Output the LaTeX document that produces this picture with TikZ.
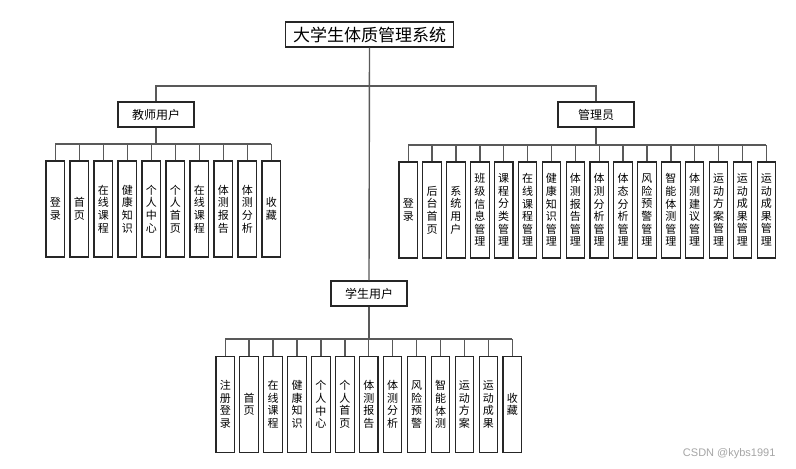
\documentclass[tikz,border=0pt]{standalone}
\usepackage{fontspec}
\newfontfamily\cjk{Noto Sans CJK SC}
\newfontfamily\wmfont{Liberation Sans}
\begin{document}
\begin{tikzpicture}[x=1pt,y=-1pt,
  conn/.style={draw=black!65,line width=1.4pt},
  headbox/.style={draw=black!85,line width=1.1pt,fill=white,inner sep=0,
    minimum width=76,minimum height=25,font=\cjk\fontsize{12}{14}\selectfont},
  rootbox/.style={draw=black!85,line width=1.1pt,fill=white,inner sep=0,
    minimum width=168,minimum height=25,font=\cjk\fontsize{17}{19}\selectfont},
  leaf/.style={draw=black!85,line width=1.1pt,fill=white,inner sep=0,
    minimum width=18.5,minimum height=96,align=center,
    font=\cjk\fontsize{11}{12.6}\selectfont},
  wm/.style={font=\wmfont\fontsize{11}{13}\selectfont,text=black!35}]
\useasboundingbox (0,0) rectangle (796,469);
\fill[white] (0,0) rectangle (796,469);

% top level
\node[rootbox] (root) at (369.5,34.5) {大学生体质管理系统};
\node[headbox] (tea) at (156,114.5) {教师用户};
\node[headbox] (adm) at (596,114.5) {管理员};
\node[headbox] (stu) at (369,293.5) {学生用户};

\coordinate (mbus) at (0,86);
\draw[conn] (root.south) -- (stu.north);
\draw[conn] (tea.north) -- (tea.north |- mbus) -- (adm.north |- mbus) -- (adm.north);

% teacher functions
\foreach \t [count=\i] in {登\\录,首\\页,在\\线\\课\\程,健\\康\\知\\识,个\\人\\中\\心,
    个\\人\\首\\页,在\\线\\课\\程,体\\测\\报\\告,体\\测\\分\\析,收\\藏}
  \node[leaf] (t\i) at ({55.25+24*(\i-1)},209) {\t};
\coordinate (tbus) at (0,144);
\draw[conn] (tea.south) -- (tea.south |- tbus);
\draw[conn] (t1.north |- tbus) -- (t10.north |- tbus);
\foreach \i in {1,...,10}
  \draw[conn] (t\i.north) -- (t\i.north |- tbus);

% administrator functions
\foreach \t [count=\i] in {登\\录,后\\台\\首\\页,系\\统\\用\\户,班\\级\\信\\息\\管\\理,
    课\\程\\分\\类\\管\\理,在\\线\\课\\程\\管\\理,健\\康\\知\\识\\管\\理,
    体\\测\\报\\告\\管\\理,体\\测\\分\\析\\管\\理,体\\态\\分\\析\\管\\理,
    风\\险\\预\\警\\管\\理,智\\能\\体\\测\\管\\理,体\\测\\建\\议\\管\\理,
    运\\动\\方\\案\\管\\理,运\\动\\成\\果\\管\\理,运\\动\\成\\果\\管\\理}
  \node[leaf] (a\i) at ({408.25+23.87*(\i-1)},210) {\t};
\coordinate (abus) at (0,145);
\draw[conn] (adm.south) -- (adm.south |- abus);
\draw[conn] (a1.north |- abus) -- (a16.north |- abus);
\foreach \i in {1,...,16}
  \draw[conn] (a\i.north) -- (a\i.north |- abus);

% student functions
\foreach \t [count=\i] in {注\\册\\登\\录,首\\页,在\\线\\课\\程,健\\康\\知\\识,
    个\\人\\中\\心,个\\人\\首\\页,体\\测\\报\\告,体\\测\\分\\析,风\\险\\预\\警,
    智\\能\\体\\测,运\\动\\方\\案,运\\动\\成\\果,收\\藏}
  \node[leaf] (s\i) at ({225.25+23.92*(\i-1)},404.5) {\t};
\coordinate (sbus) at (0,339);
\draw[conn] (stu.south) -- (stu.south |- sbus);
\draw[conn] (s1.north |- sbus) -- (s13.north |- sbus);
\foreach \i in {1,...,13}
  \draw[conn] (s\i.north) -- (s\i.north |- sbus);

\node[wm,anchor=east] (mark) at (779,454) {CSDN @kybs1991};
\end{tikzpicture}
\end{document}
